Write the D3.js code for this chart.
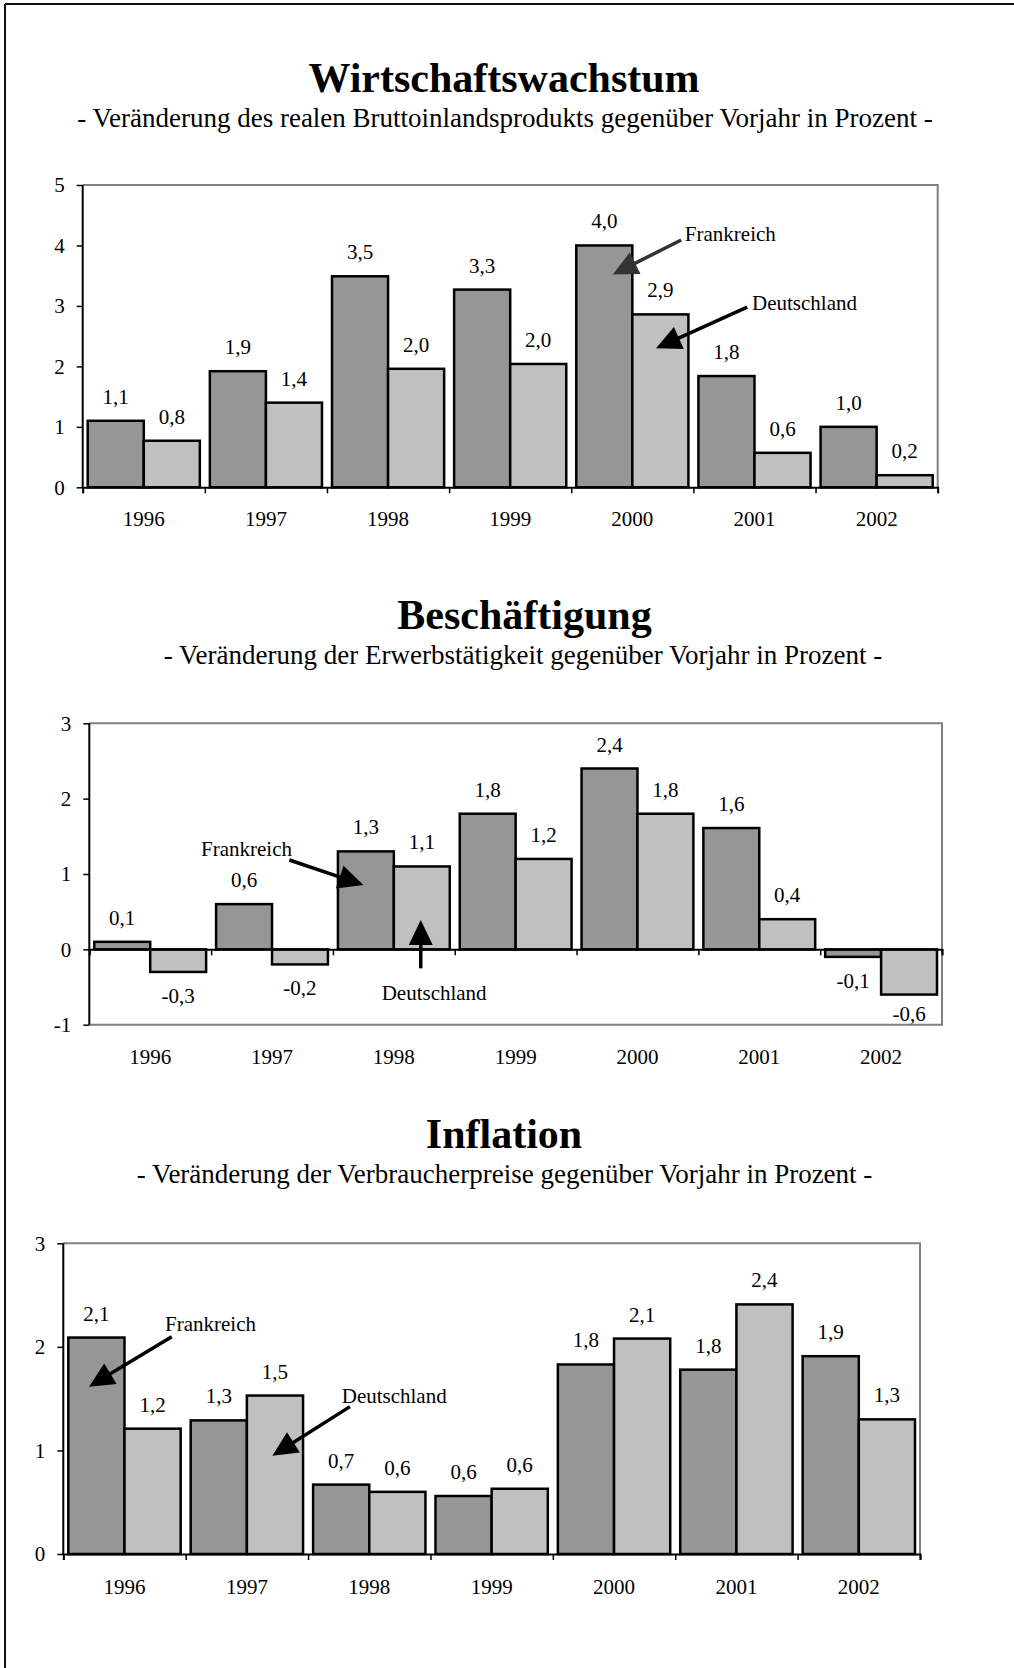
<!DOCTYPE html>
<html>
<head>
<meta charset="utf-8">
<script src="https://cdn.jsdelivr.net/npm/d3@7"></script>
<style>
  html, body { margin: 0; padding: 0; background: #fff; }
  svg { display: block; }
  text { font-family: "Liberation Serif", "Times New Roman", serif; fill: #000; }
</style>
</head>
<body>
<script>
// ---------- DATA ----------
const years = ["1996", "1997", "1998", "1999", "2000", "2001", "2002"];
const seriesNames = ["Frankreich", "Deutschland"];

// Wirtschaftswachstum (real GDP, % change)
const gdpFrankreich  = [1.10, 1.92, 3.49, 3.27, 4.00, 1.84, 1.00];
const gdpDeutschland = [0.77, 1.40, 1.96, 2.04, 2.86, 0.57, 0.20];
const gdpTicks = [0, 1, 2, 3, 4, 5];

// Beschäftigung (employment, % change)
const empFrankreich  = [0.10, 0.60, 1.30, 1.80, 2.40, 1.61, -0.10];
const empDeutschland = [-0.30, -0.20, 1.10, 1.20, 1.80, 0.40, -0.60];
const empTicks = [-1, 0, 1, 2, 3];

// Inflation (consumer prices, % change)
const cpiFrankreich  = [2.09, 1.29, 0.67, 0.56, 1.83, 1.78, 1.91];
const cpiDeutschland = [1.21, 1.53, 0.60, 0.63, 2.08, 2.41, 1.30];
const cpiTicks = [0, 1, 2, 3];

const titles = ["Wirtschaftswachstum", "Beschäftigung", "Inflation"];
const subtitles = [
  "- Veränderung des realen Bruttoinlandsprodukts gegenüber Vorjahr in Prozent -",
  "- Veränderung der Erwerbstätigkeit gegenüber Vorjahr in Prozent -",
  "- Veränderung der Verbraucherpreise gegenüber Vorjahr in Prozent -"
];

// annotations in data space: category units from plot left edge, value units
const gdpNotes = [
  { text: "Frankreich",  tx: 4.93, tv: 4.07, from: [4.90, 4.09], to: [4.34, 3.52], color: "#333333" },
  { text: "Deutschland", tx: 5.48, tv: 2.93, from: [5.44, 2.98], to: [4.694, 2.30], color: "#000000" }
];
const empNotes = [
  { text: "Frankreich",  tx: 0.917, tv: 1.238, from: [1.642, 1.186], to: [2.25, 0.853], color: "#000000" },
  { text: "Deutschland", tx: 2.40, tv: -0.673, from: [2.721, -0.252], to: [2.721, 0.389], color: "#000000" }
];
const cpiNotes = [
  { text: "Frankreich",  tx: 0.831, tv: 2.156, from: [0.886, 2.098], to: [0.21, 1.615], color: "#000000" },
  { text: "Deutschland", tx: 2.275, tv: 1.461, from: [2.342, 1.423], to: [1.708, 0.949], color: "#000000" }
];

const colors = ["#969696", "#c0c0c0"];

// ---------- LAYOUT ----------
const W = 1014, H = 1668;
const svg = d3.select("body").append("svg").attr("width", W).attr("height", H);

// page frame (top + left)
svg.append("line").attr("x1", 5).attr("y1", 4).attr("x2", W).attr("y2", 4)
  .attr("stroke", "#111").attr("stroke-width", 2);
svg.append("line").attr("x1", 5).attr("y1", 4).attr("x2", 5).attr("y2", H)
  .attr("stroke", "#111").attr("stroke-width", 2);

const fmt = v => d3.format(".1f")(v).replace(".", ",").replace("\u2212", "-");
const fmtInt = v => d3.format("d")(v).replace("\u2212", "-");

function drawChart(cfg) {
  const g = svg.append("g");
  // titles
  g.append("text").attr("x", cfg.titleX).attr("y", cfg.titleY)
    .attr("text-anchor", "middle").attr("font-weight", "bold").attr("font-size", 42)
    .text(cfg.title);
  g.append("text").attr("x", cfg.subX).attr("y", cfg.subY)
    .attr("text-anchor", "middle").attr("font-size", 27)
    .text(cfg.subtitle);

  const y = d3.scaleLinear().domain(cfg.domain).range([cfg.yBottom, cfg.yTop]);
  const x = d3.scaleBand().domain(years).range([cfg.x0, cfg.x1])
    .paddingInner(0.082).paddingOuter(0.041);
  const xs = d3.scaleBand().domain(seriesNames).range([0, x.bandwidth()]);
  const xb = d3.scaleLinear().domain([0, years.length]).range([cfg.x0, cfg.x1]);

  // frame: top & right (gray), bottom too when axis is not at the bottom
  g.append("path")
    .attr("d", `M${cfg.x0},${cfg.yTop}H${cfg.x1}V${cfg.yBottom}` + (cfg.domain[0] < 0 ? `H${cfg.x0}` : ""))
    .attr("fill", "none").attr("stroke", "#808080").attr("stroke-width", 2);

  // bars
  const rows = years.map((yr, i) => ({ yr, vals: [cfg.a[i], cfg.b[i]] }));
  const grp = g.selectAll("g.grp").data(rows).join("g")
    .attr("transform", d => `translate(${x(d.yr)},0)`);
  grp.selectAll("rect").data(d => d.vals.map((v, k) => ({ v, k }))).join("rect")
    .attr("x", d => xs(seriesNames[d.k]))
    .attr("width", xs.bandwidth())
    .attr("y", d => y(Math.max(0, d.v)))
    .attr("height", d => Math.abs(y(d.v) - y(0)))
    .attr("fill", d => colors[d.k])
    .attr("stroke", "#000").attr("stroke-width", 2.5);
  grp.selectAll("text").data(d => d.vals.map((v, k) => ({ v, k }))).join("text")
    .attr("x", d => xs(seriesNames[d.k]) + xs.bandwidth() / 2)
    .attr("y", d => d.v >= 0 ? y(d.v) - 17 : Math.min(y(d.v) + 31, cfg.yBottom - 4))
    .attr("text-anchor", "middle").attr("font-size", 21)
    .text(d => fmt(d.v));

  // y axis
  const ya = g.append("g").attr("transform", `translate(${cfg.x0},0)`)
    .call(d3.axisLeft(y).tickValues(cfg.ticks).tickSize(6).tickPadding(12).tickFormat(fmtInt));
  ya.select(".domain").remove();
  ya.selectAll(".tick line").attr("stroke", "#000").attr("stroke-width", 1.5);
  ya.selectAll(".tick text").attr("font-size", 21).attr("font-family", '"Liberation Serif", serif').attr("fill", "#000");
  g.append("line").attr("x1", cfg.x0).attr("x2", cfg.x0).attr("y1", cfg.yTop).attr("y2", cfg.yBottom)
    .attr("stroke", "#000").attr("stroke-width", 2);

  // zero line with boundary ticks
  const za = g.append("g").attr("transform", `translate(0,${y(0)})`)
    .call(d3.axisBottom(xb).tickValues(d3.range(years.length + 1)).tickSize(6).tickFormat(""));
  za.select(".domain").attr("stroke", "#000").attr("stroke-width", 2);
  za.selectAll(".tick line").attr("stroke", "#000").attr("stroke-width", 1.5);

  // category labels
  const xa = g.append("g").attr("transform", `translate(0,${cfg.labelBase})`)
    .call(d3.axisBottom(x).tickSize(0).tickPadding(0));
  xa.select(".domain").remove();
  xa.selectAll(".tick text").attr("dy", 0).attr("y", 0).attr("font-size", 21)
    .attr("font-family", '"Liberation Serif", serif').attr("fill", "#000");

  // annotations
  cfg.notes.forEach(n => {
    const x1 = xb(n.from[0]), y1 = y(n.from[1]);
    const x2 = xb(n.to[0]), y2 = y(n.to[1]);
    const dx = x2 - x1, dy = y2 - y1, L = Math.hypot(dx, dy);
    const ux = dx / L, uy = dy / L, len = 25, hw = 12;
    const bx = x2 - ux * len, by = y2 - uy * len;
    g.append("line").attr("x1", x1).attr("y1", y1).attr("x2", bx + ux * 2).attr("y2", by + uy * 2)
      .attr("stroke", n.color).attr("stroke-width", 3.5);
    g.append("path")
      .attr("d", `M${x2},${y2}L${bx - uy * hw},${by + ux * hw}L${bx + uy * hw},${by - ux * hw}Z`)
      .attr("fill", n.color);
    g.append("text").attr("x", xb(n.tx)).attr("y", y(n.tv)).attr("font-size", 21).text(n.text);
  });
}

drawChart({
  title: titles[0], subtitle: subtitles[0],
  titleX: 504, titleY: 92, subX: 505, subY: 127,
  x0: 82.7, x1: 937.7, yTop: 185, yBottom: 487.3, domain: [0, 5], ticks: gdpTicks,
  labelBase: 526, a: gdpFrankreich, b: gdpDeutschland, notes: gdpNotes
});
drawChart({
  title: titles[1], subtitle: subtitles[1],
  titleX: 524.5, titleY: 629, subX: 523, subY: 664,
  x0: 89.3, x1: 942, yTop: 723.3, yBottom: 1024.7, domain: [-1, 3], ticks: empTicks,
  labelBase: 1063.5, a: empFrankreich, b: empDeutschland, notes: empNotes
});
drawChart({
  title: titles[2], subtitle: subtitles[2],
  titleX: 504, titleY: 1148, subX: 504.5, subY: 1183,
  x0: 63.3, x1: 920, yTop: 1243.3, yBottom: 1554, domain: [0, 3], ticks: cpiTicks,
  labelBase: 1594, a: cpiFrankreich, b: cpiDeutschland, notes: cpiNotes
});
</script>
</body>
</html>
